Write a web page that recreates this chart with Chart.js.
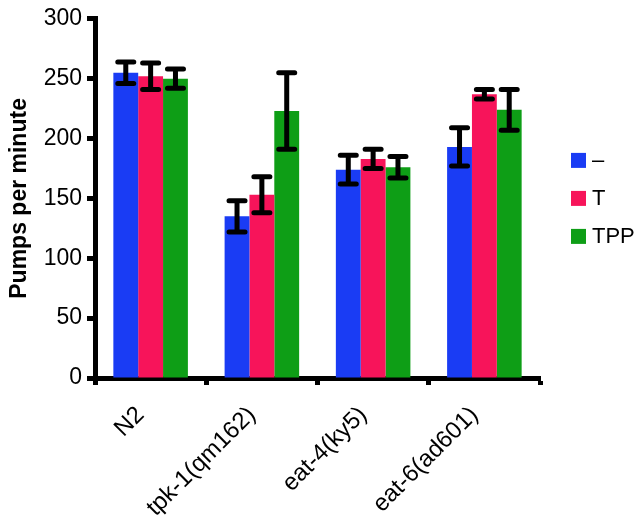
<!DOCTYPE html>
<html>
<head>
<meta charset="utf-8">
<script src="https://cdn.jsdelivr.net/npm/chart.js@4.4.1/dist/chart.umd.min.js"></script>
<style>
  html, body { margin: 0; padding: 0; background: #fff; }
  #wrap { width: 640px; height: 523px; }
</style>
</head>
<body>
<div id="wrap"><canvas id="barChart"></canvas></div>
<script>
const categories = ['N2', 'tpk-1(qm162)', 'eat-4(ky5)', 'eat-6(ad601)'];
const seriesNames = ['\u2013', 'T', 'TPP'];
const minusValues = [255, 135, 174, 193];
const minusErrors = [9, 13, 12, 16];
const tValues = [252, 153, 183, 237];
const tErrors = [11, 15, 8, 4];
const tppValues = [250, 223, 176, 224];
const tppErrors = [8, 32, 9, 17];
const yTicks = [0, 50, 100, 150, 200, 250, 300];

const colors = ['#1a3cf4', '#f7145a', '#0e9e16'];

// error bars drawn on top of each bar
const errorBars = {
    id: 'errorBars',
    afterDatasetsDraw(chart) {
        const ctx = chart.ctx;
        const y = chart.scales.y;
        ctx.save();
        ctx.strokeStyle = '#000';
        ctx.lineWidth = 5;
        ctx.lineCap = 'round';
        chart.data.datasets.forEach((ds, i) => {
            const meta = chart.getDatasetMeta(i);
            meta.data.forEach((bar, j) => {
                const v = ds.data[j], e = ds.errors[j];
                const top = y.getPixelForValue(v + e);
                const bot = y.getPixelForValue(v - e);
                const half = 8;
                ctx.beginPath();
                ctx.moveTo(bar.x, top);
                ctx.lineTo(bar.x, bot);
                ctx.moveTo(bar.x - half, top);
                ctx.lineTo(bar.x + half, top);
                ctx.moveTo(bar.x - half, bot);
                ctx.lineTo(bar.x + half, bot);
                ctx.stroke();
            });
        });
        ctx.restore();
    }
};

// simple legend to the right of the plot
const sideLegend = {
    id: 'sideLegend',
    afterDraw(chart) {
        const ctx = chart.ctx;
        const x = chart.chartArea.right + 31;
        const mid = (chart.chartArea.top + chart.chartArea.bottom) / 2;
        const step = 38;
        ctx.save();
        ctx.font = '22px "Liberation Sans", Arial, sans-serif';
        ctx.textBaseline = 'middle';
        chart.data.datasets.forEach((ds, i) => {
            const cy = mid + (i - 1) * step;
            ctx.fillStyle = ds.backgroundColor;
            ctx.fillRect(x, cy - 7.5, 15, 15);
            ctx.fillStyle = '#000';
            ctx.fillText(ds.label, x + 21, cy + 1);
        });
        ctx.restore();
    }
};

const ctx = document.getElementById('barChart').getContext('2d');

const data = {
    labels: categories,
    datasets: [
        { label: seriesNames[0], data: minusValues, errors: minusErrors, backgroundColor: colors[0] },
        { label: seriesNames[1], data: tValues, errors: tErrors, backgroundColor: colors[1] },
        { label: seriesNames[2], data: tppValues, errors: tppErrors, backgroundColor: colors[2] }
    ]
};

const config = {
    type: 'bar',
    data: data,
    options: {
        responsive: false,
        animation: false,
        layout: { padding: { top: 15, right: 100, left: 0, bottom: 0 } },
        datasets: { bar: { categoryPercentage: 0.67, barPercentage: 1.0 } },
        plugins: {
            legend: { display: false },
            tooltip: { enabled: false }
        },
        scales: {
            x: {
                offset: true,
                afterFit(scale) { scale.height = 145; },
                border: { display: true, color: '#000', width: 5 },
                grid: {
                    offset: true,
                    drawOnChartArea: false,
                    drawTicks: true,
                    tickLength: 7,
                    tickWidth: 5,
                    tickColor: '#000'
                },
                ticks: {
                    color: '#000',
                    minRotation: 45,
                    maxRotation: 45,
                    padding: 16,
                    labelOffset: -10,
                    font: { family: '"Liberation Sans", Arial, sans-serif', size: 24 }
                }
            },
            y: {
                min: 0,
                max: 300,
                afterFit(scale) { scale.width = 95; },
                afterBuildTicks(scale) { scale.ticks = yTicks.map(v => ({ value: v })); },
                border: { display: true, color: '#000', width: 5 },
                grid: {
                    drawOnChartArea: false,
                    drawTicks: true,
                    tickLength: 8,
                    tickWidth: 5,
                    tickColor: '#000'
                },
                ticks: {
                    color: '#000',
                    padding: 5,
                    font: { family: '"Liberation Sans", Arial, sans-serif', size: 23 }
                },
                title: {
                    display: true,
                    text: 'Pumps per minute',
                    color: '#000',
                    padding: { top: 6, bottom: 0 },
                    font: { family: '"Liberation Sans", Arial, sans-serif', size: 23, weight: 'bold' }
                }
            }
        }
    },
    plugins: [errorBars, sideLegend]
};

const canvas = document.getElementById('barChart');
canvas.width = 640;
canvas.height = 523;
new Chart(ctx, config);
</script>
</body>
</html>
